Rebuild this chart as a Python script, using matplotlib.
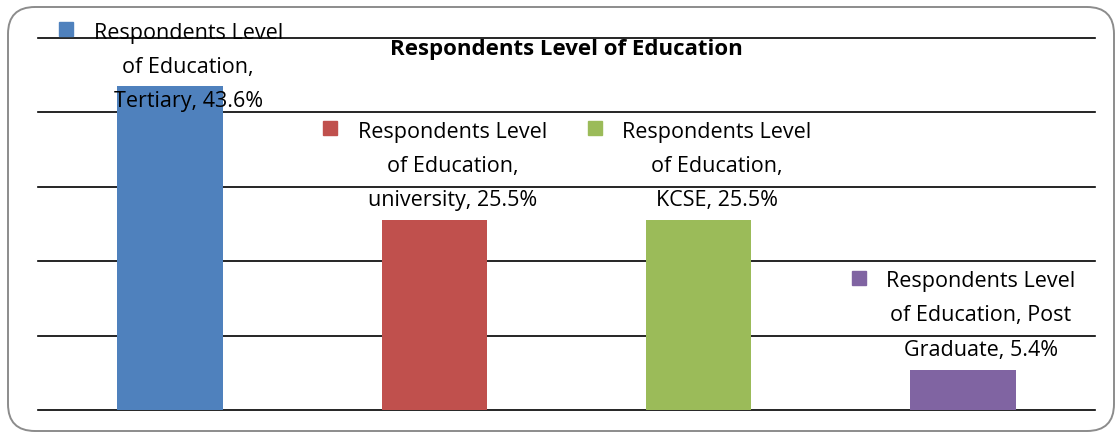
import textwrap
import matplotlib
matplotlib.use('Agg')
import matplotlib.pyplot as plt
from matplotlib.patches import FancyBboxPatch
from matplotlib.transforms import ScaledTranslation

series_name = 'Respondents Level of Education'
categories = ['Tertiary', 'university', 'KCSE', 'Post Graduate']
values = [43.6, 25.5, 25.5, 5.4]
colors = ['#4F81BD', '#C0504D', '#9BBB59', '#8064A2']
yticks = [0, 10, 20, 30, 40, 50]

plt.rcParams['font.family'] = ['Open Sans', 'DejaVu Sans']

W, H, DPI = 1120, 434, 100
fig = plt.figure(figsize=(W / DPI, H / DPI), dpi=DPI)
fig.patch.set_facecolor('white')

# rounded chart border
border = FancyBboxPatch((8 / DPI, 3 / DPI), (1114 - 8) / DPI, (431 - 7) / DPI,
                        boxstyle='round,pad=0,rounding_size=0.27',
                        transform=fig.dpi_scale_trans, facecolor='none',
                        edgecolor='#8c8c8c', linewidth=1.4)
fig.add_artist(border)

ax = fig.add_axes([38 / W, 1 - 410 / H, (1095 - 38) / W, (410 - 38) / H])
ax.set_facecolor('none')
x = list(range(len(categories)))
ax.bar(x, values, width=0.4, color=colors, zorder=3)
ax.set_xlim(-0.5, len(categories) - 0.5)
ax.set_ylim(0, 50)
ax.set_yticks(yticks)
ax.yaxis.grid(True, color='black', linewidth=1.2)
for gl in ax.get_ygridlines():
    gl.set_clip_on(False)
ax.set_axisbelow(True)
for s in ax.spines.values():
    s.set_visible(False)
ax.tick_params(left=False, bottom=False, labelleft=False, labelbottom=False)
ax.set_xticks([])

text_tr = ax.transData + ScaledTranslation(18 / DPI, 0, fig.dpi_scale_trans)
key_tr = ax.transData + ScaledTranslation(-104 / DPI, 78 / DPI, fig.dpi_scale_trans)
for i, (cat, v, c) in enumerate(zip(categories, values, colors)):
    label = '\n'.join(textwrap.wrap(f'{series_name}, {cat}, {v}%', width=18))
    y = min(v + 1.9, 40.7)
    ax.text(i, y, label, transform=text_tr, ha='center', va='baseline',
            multialignment='center', fontsize=15.5, linespacing=1.83,
            color='black', clip_on=False, zorder=5)
    ax.plot([i], [y], marker='s', markersize=10, color=c, transform=key_tr,
            clip_on=False, linestyle='none', zorder=5)

fig.text(566 / W, 1 - 55 / H, series_name, ha='center', va='baseline',
         fontsize=16, fontweight='bold', color='black')

fig.savefig('out.png', dpi=DPI)
